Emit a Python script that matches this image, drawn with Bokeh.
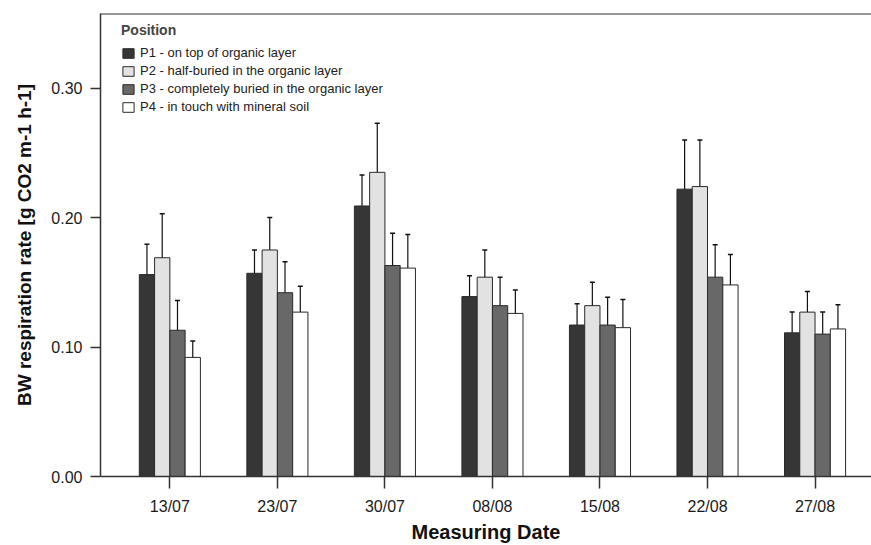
from bokeh.plotting import figure
from bokeh.models import (Range1d, FixedTicker, ColumnDataSource, Whisker, TeeHead,
                          Legend, LegendItem, NumeralTickFormatter, Span)
from bokeh.embed import file_html
from bokeh.resources import INLINE

# ---- data ----
dates = ["13/07", "23/07", "30/07", "08/08", "15/08", "22/08", "27/08"]
positions = ["P1 - on top of organic layer",
             "P2 - half-buried in the organic layer",
             "P3 - completely buried in the organic layer",
             "P4 - in touch with mineral soil"]
p1 = [0.156, 0.157, 0.209, 0.139, 0.117, 0.222, 0.111]
p1_err = [0.0235, 0.018, 0.024, 0.016, 0.0165, 0.038, 0.016]
p2 = [0.169, 0.175, 0.235, 0.154, 0.132, 0.224, 0.127]
p2_err = [0.034, 0.025, 0.038, 0.021, 0.018, 0.036, 0.016]
p3 = [0.113, 0.142, 0.163, 0.132, 0.117, 0.154, 0.110]
p3_err = [0.023, 0.024, 0.025, 0.022, 0.0215, 0.025, 0.017]
p4 = [0.092, 0.127, 0.161, 0.126, 0.115, 0.148, 0.114]
p4_err = [0.0127, 0.020, 0.026, 0.018, 0.0217, 0.0235, 0.0186]
y_ticks = [0.0, 0.1, 0.2, 0.3]

series = [p1, p2, p3, p4]
errors = [p1_err, p2_err, p3_err, p4_err]
colors = ["#363636", "#e2e2e2", "#686868", "#ffffff"]

FONT = "Liberation Sans"
BAR_W = 0.142
Y_MAX = 0.3577

p = figure(width=871, height=545, output_backend="svg", toolbar_location=None,
           x_range=Range1d(-0.645, 6.525), y_range=Range1d(0, Y_MAX),
           min_border_left=100, min_border_right=0, min_border_top=13,
           min_border_bottom=67)
p.xgrid.visible = False
p.ygrid.visible = False
p.outline_line_color = None
p.background_fill_color = "white"
p.border_fill_color = "white"

# top frame line (the reference shows no right border)
p.add_layout(Span(location=Y_MAX, dimension="width", line_color="#333333",
                  line_width=2))

items = []
for k, (vals, errs, col, name) in enumerate(zip(series, errors, colors, positions)):
    xs = [i + (k - 1.5) * BAR_W for i in range(len(dates))]
    src = ColumnDataSource(dict(x=xs, top=vals,
                                upper=[v + e for v, e in zip(vals, errs)],
                                lower=[v - e for v, e in zip(vals, errs)]))
    r = p.vbar(x="x", top="top", bottom=0, width=BAR_W, source=src,
               fill_color=col, line_color="#2a2a2a", line_width=1)
    items.append(LegendItem(label=name, renderers=[r]))
    w = Whisker(base="x", upper="upper", lower="lower", source=src,
                line_color="#111111", line_width=1.2,
                upper_head=TeeHead(size=5, line_color="#111111", line_width=1.5),
                lower_head=TeeHead(size=5, line_color="#111111", line_width=1.5))
    p.add_layout(w)

legend = Legend(items=items, location=(21, 362), title="Position",
                title_text_font=FONT, title_text_font_style="bold",
                title_text_font_size="14px", title_standoff=7,
                label_text_font=FONT, label_text_font_size="13px",
                label_text_color="#222222",
                glyph_width=14, glyph_height=12, label_height=14,
                label_standoff=5, spacing=3, padding=8, margin=0,
                border_line_color=None, background_fill_alpha=0)
p.add_layout(legend)

# axes
p.xaxis.ticker = FixedTicker(ticks=list(range(len(dates))))
p.xaxis.major_label_overrides = {i: d for i, d in enumerate(dates)}
p.xaxis.axis_label = "Measuring Date"
p.yaxis.ticker = FixedTicker(ticks=y_ticks)
p.yaxis.formatter = NumeralTickFormatter(format="0.00")
p.yaxis.axis_label = "BW respiration rate [g CO2 m-1 h-1]"

for ax in (p.xaxis[0], p.yaxis[0]):
    ax.axis_line_color = "#333333"
    ax.axis_line_width = 1.5
    ax.major_tick_line_color = "#333333"
    ax.major_tick_line_width = 1.5
    ax.minor_tick_line_color = None
    ax.major_tick_in = 0
    ax.major_label_text_font = FONT
    ax.major_label_text_font_size = "16px"
    ax.major_label_text_color = "#1a1a1a"
    ax.axis_label_text_font = FONT
    ax.axis_label_text_font_style = "bold"
    ax.axis_label_text_color = "#111111"

p.xaxis.major_tick_out = 12
p.xaxis.major_label_standoff = 9
p.xaxis.axis_label_text_font_size = "20px"
p.xaxis.axis_label_standoff = 3
p.yaxis.major_tick_out = 10
p.yaxis.major_label_standoff = 8
p.yaxis.axis_label_text_font_size = "19px"
p.yaxis.axis_label_standoff = 13

open("out.html", "w").write(file_html(p, INLINE))
